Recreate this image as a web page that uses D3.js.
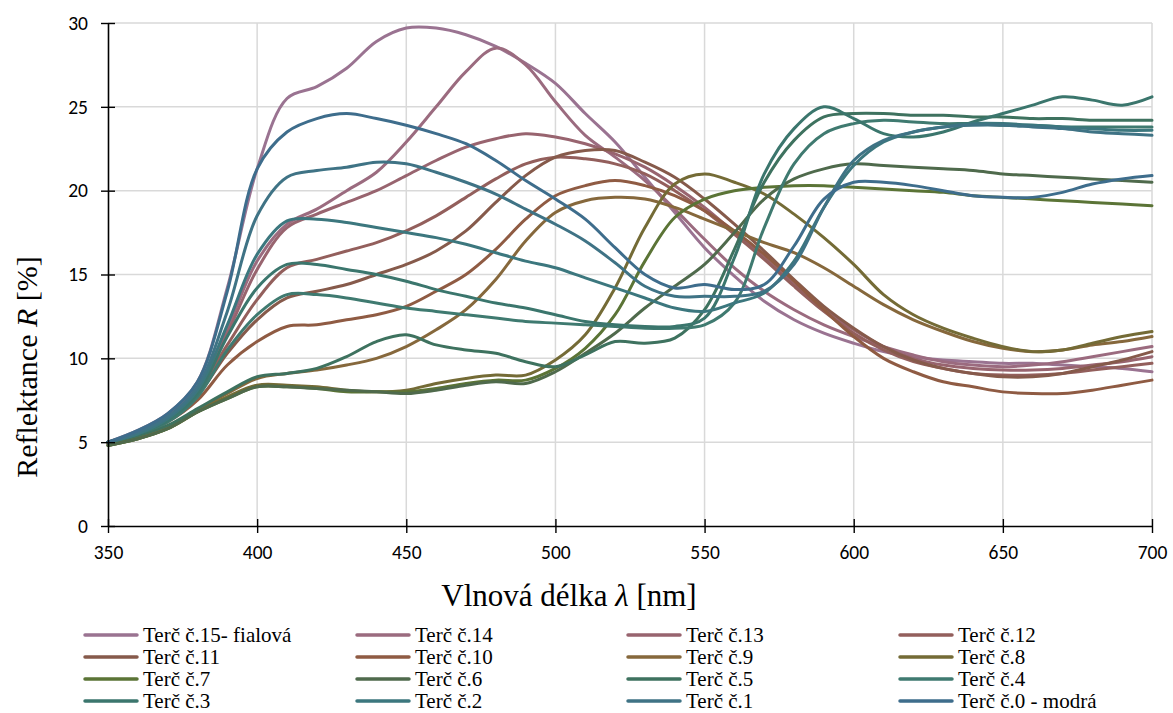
<!DOCTYPE html>
<html>
<head>
<meta charset="utf-8">
<script src="https://cdn.jsdelivr.net/npm/d3@7"></script>
<style>
  body { margin: 0; background: #ffffff; }
  svg { display: block; }
  .serif { font-family: "Times New Roman", serif; }
  .ticks text { font-family: Carlito, Lato, sans-serif; }
</style>
</head>
<body>
<svg id="chart" width="1173" height="713"></svg>
<script>
// Wavelength grid [nm]
const wavelengths = [350,360,370,380,390,400,410,420,430,440,450,460,470,480,490,500,510,520,530,540,550,560,570,580,590,600,610,620,630,640,650,660,670,680,690,700];

// Reflectance [%] of each target at the wavelengths above
const terc15 = [5.0,5.7,6.7,8.6,14.2,21.3,25.5,26.2,27.3,28.9,29.7,29.7,29.3,28.6,27.6,26.4,24.6,22.9,20.8,18.7,16.6,14.9,13.4,12.3,11.5,10.9,10.4,10.1,9.9,9.8,9.7,9.7,9.6,9.5,9.4,9.2];
const terc14 = [5.0,5.6,6.5,8.3,11.8,15.8,18.0,18.9,20.0,21.1,22.9,25.0,27.1,28.5,27.5,25.3,23.3,22.0,20.6,18.9,17.1,15.4,14.0,12.9,12.0,11.3,10.7,10.2,9.8,9.6,9.5,9.6,9.8,10.1,10.4,10.7];
const terc13 = [5.0,5.6,6.5,8.2,11.5,15.3,17.8,18.6,19.3,20.0,20.9,21.8,22.6,23.1,23.4,23.2,22.8,22.2,21.4,20.3,19.0,17.5,16.0,14.4,12.9,11.7,10.7,10.0,9.6,9.4,9.3,9.3,9.4,9.6,9.8,10.1];
const terc12 = [5.0,5.5,6.4,8.0,10.8,13.5,15.4,15.9,16.4,16.9,17.6,18.5,19.6,20.7,21.6,22.0,21.9,21.6,21.0,20.0,18.8,17.4,15.9,14.3,12.8,11.5,10.5,9.8,9.4,9.1,9.0,9.0,9.1,9.3,9.5,9.7];
const terc11 = [5.0,5.5,6.3,7.8,10.3,12.3,13.6,14.0,14.4,15.0,15.6,16.4,17.6,19.3,20.9,22.0,22.4,22.4,21.7,20.8,19.5,18.0,16.4,14.7,13.1,11.8,10.7,9.9,9.4,9.1,8.9,8.9,9.1,9.5,9.9,10.4];
const terc10 = [4.9,5.4,6.2,7.5,9.6,11.0,11.9,12.0,12.3,12.6,13.1,14.0,15.0,16.5,18.3,19.7,20.3,20.6,20.3,19.7,18.8,17.6,16.2,14.6,12.9,11.3,10.0,9.2,8.6,8.3,8.0,7.9,7.9,8.1,8.4,8.7];
const terc9  = [4.9,5.3,5.9,6.9,7.9,8.8,9.1,9.3,9.6,10.0,10.7,11.7,12.9,14.7,17.0,18.7,19.4,19.6,19.5,19.0,18.3,17.6,16.9,16.3,15.4,14.3,13.2,12.3,11.6,11.0,10.6,10.4,10.5,10.8,11.0,11.3];
const terc8  = [4.8,5.2,5.8,6.8,7.7,8.4,8.4,8.3,8.1,8.0,8.1,8.5,8.8,9.0,9.0,9.9,11.4,14.2,17.8,20.4,21.0,20.5,19.8,18.6,17.2,15.6,13.8,12.6,11.8,11.2,10.7,10.4,10.5,10.9,11.3,11.6];
const terc7  = [4.8,5.2,5.8,6.8,7.6,8.3,8.3,8.2,8.0,8.0,8.0,8.2,8.5,8.7,8.7,9.4,10.6,12.6,15.8,18.4,19.5,20.0,20.2,20.3,20.3,20.2,20.1,20.0,19.9,19.7,19.6,19.5,19.4,19.3,19.2,19.1];
const terc6  = [4.8,5.2,5.8,6.8,7.6,8.3,8.3,8.2,8.1,8.0,7.9,8.1,8.4,8.6,8.5,9.2,10.3,11.5,13.0,14.3,15.6,17.5,19.5,20.7,21.3,21.6,21.5,21.4,21.3,21.2,21.0,20.9,20.8,20.7,20.6,20.5];
const terc5  = [5.0,5.4,6.0,7.0,8.0,8.9,9.1,9.4,10.1,11.0,11.4,10.8,10.5,10.3,9.8,9.5,10.2,11.0,10.9,11.2,12.9,16.5,20.5,23.0,24.4,24.6,24.6,24.5,24.5,24.4,24.4,24.3,24.3,24.2,24.2,24.2];
const terc4  = [5.0,5.5,6.2,7.7,10.5,12.6,13.8,13.8,13.6,13.3,13.0,12.8,12.6,12.4,12.2,12.1,12.0,11.9,11.8,11.8,12.0,13.3,17.8,21.6,23.4,24.0,24.2,24.1,24.0,24.0,23.9,23.9,23.8,23.8,23.8,23.8];
const terc3  = [5.0,5.5,6.3,7.9,11.3,14.2,15.6,15.6,15.3,15.0,14.6,14.1,13.7,13.3,13.0,12.6,12.2,12.0,11.9,11.9,12.4,16.0,21.0,23.7,25.0,24.3,23.4,23.2,23.5,24.1,24.6,25.1,25.6,25.4,25.1,25.6];
const terc2  = [5.0,5.5,6.4,8.1,12.0,16.2,18.2,18.3,18.1,17.8,17.5,17.2,16.8,16.3,15.8,15.4,14.8,14.2,13.6,13.0,12.8,13.3,13.9,15.8,19.0,21.5,22.9,23.5,23.8,24.0,24.0,23.9,23.8,23.7,23.6,23.6];
const terc1  = [5.0,5.6,6.5,8.3,12.8,18.5,20.8,21.2,21.4,21.7,21.6,21.1,20.5,19.8,18.9,18.0,17.0,15.7,14.3,13.7,13.7,13.7,14.0,15.6,19.0,21.8,23.0,23.5,23.8,23.9,23.9,23.8,23.7,23.5,23.4,23.3];
const terc0  = [5.0,5.7,6.7,8.6,14.0,21.3,23.5,24.3,24.6,24.3,23.9,23.4,22.8,21.8,20.6,19.5,18.3,16.6,15.0,14.2,14.4,14.1,14.4,16.7,19.5,20.5,20.5,20.3,20.0,19.7,19.6,19.6,19.9,20.4,20.7,20.9];

const seriesNames = ["Terč č.15- fialová","Terč č.14","Terč č.13","Terč č.12",
                     "Terč č.11","Terč č.10","Terč č.9","Terč č.8",
                     "Terč č.7","Terč č.6","Terč č.5","Terč č.4",
                     "Terč č.3","Terč č.2","Terč č.1","Terč č.0 - modrá"];
const seriesValues = [terc15,terc14,terc13,terc12,terc11,terc10,terc9,terc8,
                      terc7,terc6,terc5,terc4,terc3,terc2,terc1,terc0];
const palette = ["#9a7391","#9b6b7f","#98646f","#935f5c",
                 "#865a4b","#8f5b43","#86683c","#746b36",
                 "#5b7436","#4f6a4c","#3e725f","#3f7a70",
                 "#3b766d","#3c777e","#3f7385","#3e6d8c"];

const xTicks = [350,400,450,500,550,600,650,700];
const yTicks = [0,5,10,15,20,25,30];

const svg = d3.select("#chart");
const W = 1173, H = 713;
const plot = { left: 108, right: 1152, top: 23, bottom: 526 };

const x = d3.scaleLinear().domain([350,700]).range([plot.left, plot.right]);
const y = d3.scaleLinear().domain([0,30]).range([plot.bottom, plot.top]);

svg.append("rect").attr("width", W).attr("height", H).attr("fill", "#ffffff");

// gridlines
const grid = svg.append("g").attr("stroke", "#d9d9d9").attr("stroke-width", 1.5);
grid.selectAll("line.v").data(xTicks.filter(d => d > 350)).join("line")
  .attr("class", "v")
  .attr("x1", d => x(d)).attr("x2", d => x(d))
  .attr("y1", plot.top).attr("y2", plot.bottom);
grid.selectAll("line.h").data(yTicks.filter(d => d > 0)).join("line")
  .attr("class", "h")
  .attr("x1", plot.left).attr("x2", plot.right)
  .attr("y1", d => y(d)).attr("y2", d => y(d));

// spectra
const line = d3.line()
  .x((d, i) => x(wavelengths[i]))
  .y(d => y(d))
  .curve(d3.curveCatmullRom.alpha(0.5));

svg.append("g")
  .attr("fill", "none")
  .attr("stroke-width", 3)
  .attr("stroke-linejoin", "round")
  .attr("stroke-linecap", "round")
  .selectAll("path").data(seriesValues).join("path")
  .attr("stroke", (d, i) => palette[i])
  .attr("d", d => line(d));

// axes
const yAxis = svg.append("g")
  .attr("class", "ticks")
  .attr("transform", `translate(${plot.left},0)`)
  .call(d3.axisLeft(y).tickValues(yTicks).tickSizeInner(7).tickSizeOuter(0).tickPadding(13));
yAxis.selectAll(".tick line").attr("x1", 7);
const xAxis = svg.append("g")
  .attr("class", "ticks")
  .attr("transform", `translate(0,${plot.bottom})`)
  .call(d3.axisBottom(x).tickValues(xTicks).tickSizeInner(7).tickSizeOuter(0).tickPadding(12));
xAxis.selectAll(".tick line").attr("y1", -7);

[yAxis, xAxis].forEach(g => {
  g.attr("font-family", null);
  g.select(".domain").attr("stroke", "#000").attr("stroke-width", 1.6);
  g.selectAll(".tick line").attr("stroke", "#000").attr("stroke-width", 1.4);
  g.selectAll(".tick text").attr("font-size", 19.5).attr("fill", "#000");
});

// axis titles
const xt = svg.append("text")
  .attr("class", "serif")
  .attr("x", 569)
  .attr("y", 606)
  .attr("text-anchor", "middle")
  .attr("font-size", 31).attr("fill", "#000");
xt.append("tspan").text("Vlnová délka ");
xt.append("tspan").attr("font-style", "italic").text("λ");
xt.append("tspan").text(" [nm]");

const yt = svg.append("text")
  .attr("class", "serif")
  .attr("transform", `translate(37,367) rotate(-90)`)
  .attr("text-anchor", "middle")
  .attr("font-size", 30).attr("fill", "#000");
yt.append("tspan").text("Reflektance ");
yt.append("tspan").attr("font-style", "italic").text("R");
yt.append("tspan").text(" [%]");

// legend: four columns, series in reading order
const legCols = [85, 357, 628, 900];
const legRows = [635, 657, 679, 701];
const legend = svg.append("g");
const items = legend.selectAll("g").data(seriesNames).join("g")
  .attr("transform", (d, i) => `translate(${legCols[i % 4]},${legRows[Math.floor(i / 4)]})`);
items.append("line")
  .attr("x1", 0).attr("x2", 52).attr("y1", 0).attr("y2", 0)
  .attr("stroke", (d, i) => palette[i]).attr("stroke-width", 3.5).attr("stroke-linecap", "round");
items.append("text")
  .attr("class", "serif")
  .attr("x", 58).attr("y", 0).attr("dy", "0.33em")
  .attr("font-size", 21).attr("fill", "#000")
  .text(d => d);
</script>
</body>
</html>
